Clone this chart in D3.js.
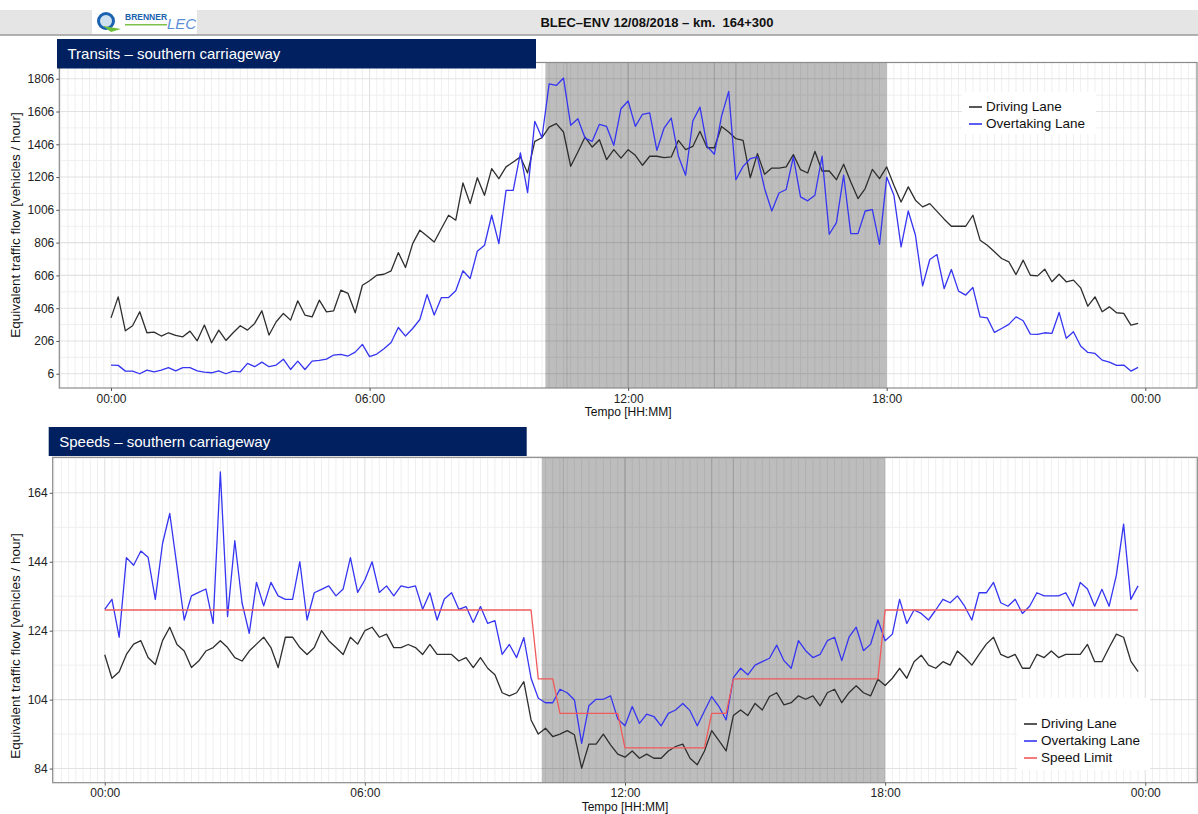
<!DOCTYPE html>
<html>
<head>
<meta charset="utf-8">
<script src="https://cdn.jsdelivr.net/npm/d3@7"></script>
<style>
  html, body { margin: 0; padding: 0; background: #fff; }
  svg { display: block; font-family: "Liberation Sans", Arial, Helvetica, sans-serif; }
</style>
</head>
<body>
<svg id="chart" width="1198" height="814"></svg>
<script>
// ---------------- DATA ----------------
const headerTitle = "BLEC–ENV 12/08/2018 – km.  164+300";
const flowTitle = "Transits – southern carriageway";
const speedTitle = "Speeds – southern carriageway";
const yLabel = "Equivalent traffic flow [vehicles / hour]";
const xLabel = "Tempo [HH:MM]";

const timeTickHours = [0, 6, 12, 18, 24];
const timeTickLabels = ["00:00", "06:00", "12:00", "18:00", "00:00"];

const flowTicks = [6, 206, 406, 606, 806, 1006, 1206, 1406, 1606, 1806];
const speedTicks = [84, 104, 124, 144, 164];

// 10-minute samples, 00:00 .. 23:50
const flowDriving = [
  347,475,268,299,384,256,260,236,256,240,231,266,207,303,195,272,209,256,299,272,
  313,390,242,323,374,333,451,364,353,455,384,390,516,496,378,546,573,607,613,634,
  745,654,800,882,847,810,892,973,943,1170,1044,1202,1095,1257,1196,1268,1298,1329,1231,1424,
  1446,1511,1532,1481,1272,1359,1450,1389,1434,1312,1373,1322,1373,1339,1278,1333,1333,1325,1329,1430,
  1373,1393,1485,1385,1385,1515,1481,1440,1430,1202,1349,1223,1261,1261,1268,1343,1251,1231,1363,1243,
  1243,1190,1284,1176,1075,1136,1253,1196,1268,1156,1054,1146,1065,1024,1044,997,949,906,906,906,
  973,821,790,750,709,689,611,699,607,603,644,567,613,567,577,530,418,475,384,414,
  378,374,303,313
];
const flowOvertaking = [
  59,57,22,22,6,28,18,28,43,24,43,43,24,16,12,24,6,22,18,69,
  49,77,49,59,95,32,83,32,83,87,95,120,124,114,138,185,110,126,158,197,
  288,236,282,337,489,364,471,471,512,634,587,754,790,973,800,1125,1125,1353,1111,1546,
  1446,1775,1765,1810,1522,1562,1444,1424,1528,1515,1400,1623,1670,1515,1589,1597,1369,1505,1566,1333,
  1217,1548,1633,1393,1345,1576,1729,1190,1271,1318,1329,1135,999,1109,1130,1329,1085,1061,1095,1333,
  857,928,1217,861,861,999,1008,796,1206,1095,780,999,851,542,703,733,526,642,510,486,
  532,353,347,258,282,307,353,329,248,246,256,252,380,222,262,175,136,130,89,77,
  57,59,22,45
];
const speedDriving = [
  117.0,110.2,112.1,117.1,120.1,121.1,116.2,114.2,121.1,125.0,120.0,118.1,113.3,115.2,118.1,119.1,121.1,119.1,116.2,115.2,
  118.1,120.1,122.1,119.1,113.3,122.1,122.1,119.1,117.1,119.1,124.0,121.1,119.1,117.1,122.1,120.1,124.0,125.0,122.1,123.0,
  119.1,119.1,120.0,119.1,117.1,120.0,117.1,117.1,117.1,115.2,116.2,113.3,116.2,113.1,111.2,106.0,105.1,106.0,109.2,98.1,
  94.0,95.7,93.3,94.0,95.0,93.8,84.1,91.1,91.1,94.0,90.9,88.2,87.3,89.1,87.0,88.2,87.0,87.0,89.1,90.4,
  91.1,87.0,85.1,89.1,95.0,92.1,89.1,99.4,101.0,99.4,102.9,101.0,104.9,106.0,102.5,103.1,105.1,104.1,105.1,102.2,
  106.0,107.0,103.1,106.0,108.0,106.0,105.1,109.9,108.1,110.2,113.1,110.2,115.0,116.9,114.0,113.1,115.0,114.0,118.1,116.2,
  114.0,117.1,120.1,122.1,117.1,116.2,117.1,113.1,113.1,117.1,116.2,118.1,116.2,117.1,117.1,117.1,120.0,115.0,115.0,119.1,
  123.0,122.1,115.2,112.1
];
const speedOvertaking = [
  130.2,133.1,122.1,145.2,143.0,147.1,145.3,133.1,149.3,158.0,142.6,127.1,134.1,135.1,136.1,126.1,170.1,128.1,150.1,132.1,
  123.2,138.0,131.2,138.0,134.1,133.1,133.1,144.0,127.1,135.0,136.0,137.0,134.1,136.1,145.2,135.1,138.7,144.0,135.1,137.0,
  134.1,137.0,136.5,137.0,130.2,135.0,127.1,133.2,135.0,130.2,131.0,126.4,131.0,126.1,126.9,117.1,120.0,116.2,122.0,110.2,
  104.4,103.1,103.1,107.0,106.0,103.9,91.3,102.2,104.1,104.1,105.1,98.4,96.4,102.0,97.1,99.8,99.1,96.4,100.0,101.0,
  102.9,100.8,96.4,100.7,104.9,102.0,98.1,110.4,113.1,111.2,114.0,115.0,116.0,119.8,115.3,113.1,121.1,118.2,116.2,117.1,
  121.1,122.1,115.3,122.1,125.0,118.2,120.1,127.1,121.1,123.0,133.1,126.1,130.0,129.0,127.1,130.0,133.1,132.1,134.1,131.1,
  127.1,135.0,135.0,138.0,132.1,131.1,133.1,129.0,131.1,135.0,134.1,134.1,134.1,135.0,131.1,138.0,136.1,131.1,136.0,131.1,
  140.1,154.9,133.1,137.0
];
// speed limit breakpoints (hours, km/h)
const limitHours = [0, 9.833, 10, 10.333, 10.5, 11.833, 12, 13.833, 14, 14.333, 14.5, 17.833, 18, 23.833];
const limitKmh   = [130, 130, 110, 110, 100, 100, 90, 90, 100, 100, 110, 110, 130, 130];

// limit-control period (shaded) and its inner sub-period boundaries, hours
const shadeStart = 10.08, shadeEnd = 18.0;
const shadeInner = [10.58, 12.0, 14.0, 14.5];

const hours = flowDriving.map((_, i) => i / 6);

// ---------------- DRAW ----------------
const svg = d3.select("#chart");
const FONT = '"Liberation Sans", Arial, Helvetica, sans-serif';

// header bar
svg.append("rect").attr("x", 0).attr("y", 10).attr("width", 1198).attr("height", 25).attr("fill", "#e5e5e5");
svg.append("line").attr("x1", 0).attr("x2", 1198).attr("y1", 35).attr("y2", 35).attr("stroke", "#9a9a9a").attr("stroke-width", 1.5);
svg.append("text").attr("x", 657).attr("y", 26.5).attr("text-anchor", "middle")
  .attr("font-size", 13).attr("font-weight", "bold").attr("fill", "#111")
  .style("white-space", "pre").text(headerTitle);

// logo
const logo = svg.append("g");
logo.append("rect").attr("x", 92).attr("y", 10).attr("width", 105).attr("height", 24).attr("fill", "#fff");
logo.append("circle").attr("cx", 106).attr("cy", 21).attr("r", 7.5).attr("fill", "#cfe0ef").attr("stroke", "#1b62b0").attr("stroke-width", 3);
logo.append("path").attr("d", "M103,26 L121,29 L111,32 Z").attr("fill", "#6cbf3a");
logo.append("text").attr("x", 125).attr("y", 20).attr("font-size", 8.5).attr("font-weight", "bold")
  .attr("fill", "#1b62b0").attr("font-family", FONT).text("BRENNER");
logo.append("rect").attr("x", 125).attr("y", 24).attr("width", 42).attr("height", 1.5).attr("fill", "#7cc24a");
logo.append("text").attr("x", 167).attr("y", 29).attr("font-size", 15).attr("font-style", "italic")
  .attr("fill", "#5b8fd6").attr("font-family", FONT).text("LEC");

function drawPanel(cfg) {
  const g = svg.append("g");
  const x = d3.scaleLinear().domain([-1.2, 25.2]).range([cfg.left, cfg.right]);
  const y = d3.scaleLinear().domain(cfg.yDomain).range([cfg.bottom, cfg.top]);

  // background
  g.append("rect").attr("x", cfg.left).attr("y", cfg.top)
    .attr("width", cfg.right - cfg.left).attr("height", cfg.bottom - cfg.top).attr("fill", "#fff");

  // minor grids
  const vMinor = d3.range(-7, 152).map(k => k / 6).filter(h => h >= -1.2 && h <= 25.2 && Math.abs(h / 6 - Math.round(h / 6)) > 1e-6);
  g.selectAll(null).data(vMinor).join("line")
    .attr("x1", d => x(d)).attr("x2", d => x(d)).attr("y1", cfg.top).attr("y2", cfg.bottom)
    .attr("stroke", "#efefef").attr("stroke-width", 1);
  const step = cfg.ticks[1] - cfg.ticks[0];
  const hMinor = [cfg.ticks[0] - step / 2, ...cfg.ticks.map(t => t + step / 2)]
    .filter(v => v > cfg.yDomain[0] && v < cfg.yDomain[1]);
  g.selectAll(null).data(hMinor).join("line")
    .attr("x1", cfg.left).attr("x2", cfg.right).attr("y1", d => y(d)).attr("y2", d => y(d))
    .attr("stroke", "#efefef").attr("stroke-width", 1);
  // major grids
  g.selectAll(null).data(timeTickHours).join("line")
    .attr("x1", d => x(d)).attr("x2", d => x(d)).attr("y1", cfg.top).attr("y2", cfg.bottom)
    .attr("stroke", "#e2e2e2").attr("stroke-width", 1.1);
  g.selectAll(null).data(cfg.ticks).join("line")
    .attr("x1", cfg.left).attr("x2", cfg.right).attr("y1", d => y(d)).attr("y2", d => y(d))
    .attr("stroke", "#e2e2e2").attr("stroke-width", 1.1);

  // shaded limit period
  g.append("rect").attr("x", x(shadeStart)).attr("y", cfg.top)
    .attr("width", x(shadeEnd) - x(shadeStart)).attr("height", cfg.bottom - cfg.top)
    .attr("fill", "#000").attr("fill-opacity", 0.26);
  g.selectAll(null).data(shadeInner).join("line")
    .attr("x1", d => x(d)).attr("x2", d => x(d)).attr("y1", cfg.top).attr("y2", cfg.bottom)
    .attr("stroke", "#000").attr("stroke-opacity", 0.1).attr("stroke-width", 1.2);

  // series
  const line = d3.line().x(d => x(d[0])).y(d => y(d[1]));
  cfg.series.forEach(s => {
    g.append("path").datum(s.xs.map((h, i) => [h, s.values[i]]))
      .attr("d", line).attr("fill", "none").attr("stroke", s.color)
      .attr("stroke-width", 1.3).attr("stroke-linejoin", "round");
  });

  // legend
  const lg = g.append("g");
  lg.append("rect").attr("x", cfg.legend.x).attr("y", cfg.legend.y)
    .attr("width", cfg.legend.w).attr("height", cfg.legend.h).attr("fill", "#fff");
  cfg.series.forEach((s, i) => {
    const yy = cfg.legend.y + cfg.legend.first + i * 17;
    lg.append("line").attr("x1", cfg.legend.x + 7).attr("x2", cfg.legend.x + 20)
      .attr("y1", yy + 1).attr("y2", yy + 1).attr("stroke", s.color).attr("stroke-width", 1.6);
    lg.append("text").attr("x", cfg.legend.x + 24).attr("y", yy + 5)
      .attr("font-size", 13.5).attr("fill", "#111").text(s.name);
  });

  // border
  g.append("rect").attr("x", cfg.left).attr("y", cfg.top)
    .attr("width", cfg.right - cfg.left).attr("height", cfg.bottom - cfg.top)
    .attr("fill", "none").attr("stroke", "#8a8a8a").attr("stroke-width", 1.2);

  // axes
  const ax = g.append("g").attr("transform", `translate(0,${cfg.bottom})`)
    .call(d3.axisBottom(x).tickValues(timeTickHours).tickFormat((d, i) => timeTickLabels[i]).tickSize(3).tickPadding(3));
  ax.select(".domain").remove();
  ax.selectAll("line").attr("stroke", "#555");
  ax.selectAll("text").attr("font-size", 12).attr("fill", "#222").attr("font-family", FONT);

  const ay = g.append("g").attr("transform", `translate(${cfg.left},0)`)
    .call(d3.axisLeft(y).tickValues(cfg.ticks).tickFormat(d3.format("d")).tickSize(3).tickPadding(2));
  ay.select(".domain").remove();
  ay.selectAll("line").attr("stroke", "#555");
  ay.selectAll("text").attr("font-size", 12).attr("fill", "#222").attr("font-family", FONT);

  // axis titles
  g.append("text").attr("x", (cfg.left + cfg.right) / 2).attr("y", cfg.bottom + 28)
    .attr("text-anchor", "middle").attr("font-size", 12).attr("fill", "#111").text(xLabel);
  g.append("text").attr("transform", `translate(${20},${cfg.yLabelCenter}) rotate(-90)`)
    .attr("text-anchor", "middle").attr("font-size", 13.5).attr("fill", "#111").text(yLabel);

  // title box
  g.append("rect").attr("x", cfg.titleBox[0]).attr("y", cfg.titleBox[1])
    .attr("width", cfg.titleBox[2]).attr("height", cfg.titleBox[3]).attr("fill", "#00205f");
  g.append("text").attr("x", cfg.titleBox[0] + 10.5).attr("y", cfg.titleBox[1] + cfg.titleBox[3] / 2 + 5.3)
    .attr("font-size", 15).attr("fill", "#fff").text(cfg.title);
}

drawPanel({
  left: 59.3, right: 1197, top: 62.5, bottom: 388,
  yDomain: [-81, 1905], ticks: flowTicks, yLabelCenter: 225,
  title: flowTitle, titleBox: [57, 39, 479, 29.5],
  legend: { x: 962, y: 92, w: 134, h: 42, first: 14 },
  series: [
    { name: "Driving Lane", xs: hours, values: flowDriving, color: "#2e2e2e" },
    { name: "Overtaking Lane", xs: hours, values: flowOvertaking, color: "#3535f2" }
  ]
});

drawPanel({
  left: 52.7, right: 1197.3, top: 457.3, bottom: 782.7,
  yDomain: [79.9, 174.3], ticks: speedTicks, yLabelCenter: 646,
  title: speedTitle, titleBox: [48.7, 427, 478, 29],
  legend: { x: 1017, y: 698, w: 133, h: 72, first: 25 },
  series: [
    { name: "Driving Lane", xs: hours, values: speedDriving, color: "#2e2e2e" },
    { name: "Overtaking Lane", xs: hours, values: speedOvertaking, color: "#3535f2" },
    { name: "Speed Limit", xs: limitHours, values: limitKmh, color: "#f05a5a" }
  ]
});
</script>
</body>
</html>
